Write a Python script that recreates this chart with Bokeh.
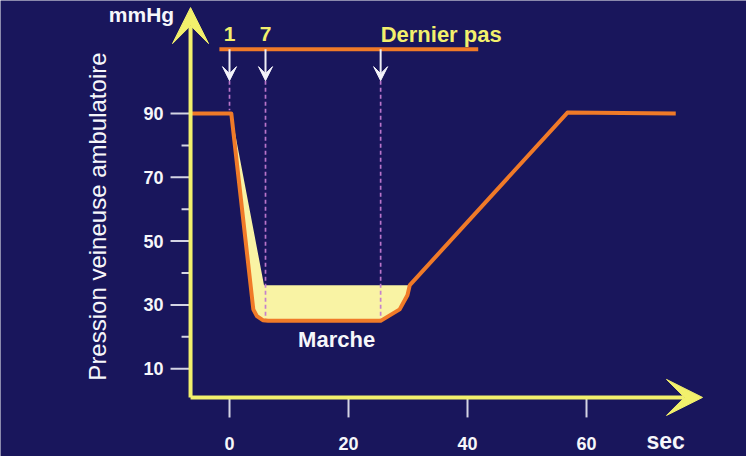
from bokeh.plotting import figure
from bokeh.models import Range1d, Arrow, VeeHead
from bokeh.core.properties import value
from bokeh.embed import file_html
from bokeh.resources import INLINE
import numpy as np

# ---- data ----
time_s = [-6.55, 0.3, 4.0, 4.6, 5.6, 6.5, 25.4, 28.6, 29.9, 30.3, 56.8, 75.0]
pressure = [90, 90, 28.6, 26.5, 25.2, 25, 25, 28.6, 33, 36.2, 90.3, 90]

fill_top_x = [0.3, 5.8, 30.3]
fill_top_y = [90, 36.2, 36.2]

step_x = [0, 6.05, 25.4]          # steps 1, 7 and last step (s)
step_labels = ["1", "7"]
dash_bottom = [91, 25, 25]       # where dashed guides meet the curve
bar_x = [-1.7, 41.8]             # "walking" bar extent
bar_y = 110.1
arrow_tip_y = 100.3

x_ticks = [0, 20, 40, 60]
x_tick_labels = ["0", "20", "40", "60"]
y_ticks = [10, 30, 50, 70, 90]
y_tick_labels = ["10", "30", "50", "70", "90"]
y_minor = [20, 40, 60, 80]

x_axis_at = 1.0      # y value of the time axis
y_axis_at = -6.55    # x value of the pressure axis
x_axis_end = 79.5
y_axis_end = 123.2

NAVY = "#19165c"
ORANGE = "#f07a28"
YELLOW = "#f2f06c"
FILL = "#f9f3a4"
TICK = "#d4d4e4"
WHITE = "#f6f6fa"
FONT = value("Liberation Sans")

# pixel scale of the canvas (746 x 456)
PX_X = 5.95   # px per second
PX_Y = 3.19   # px per mmHg

p = figure(width=746, height=456, output_backend="svg", toolbar_location=None,
           x_range=Range1d(-38.49, 86.89), y_range=Range1d(-17.52, 125.42),
           x_axis_type=None, y_axis_type=None, min_border=0)
p.background_fill_color = NAVY
p.border_fill_color = NAVY
p.outline_line_color = None
p.grid.visible = False

# ---- tick marks and tick labels (drawn through the data scales) ----
n_y = len(y_ticks)
p.segment(x0=[y_axis_at - 20 / PX_X] * n_y, y0=y_ticks, x1=[y_axis_at] * n_y, y1=y_ticks,
          line_color=TICK, line_width=2)
n_m = len(y_minor)
p.segment(x0=[y_axis_at - 9 / PX_X] * n_m, y0=y_minor, x1=[y_axis_at] * n_m, y1=y_minor,
          line_color=TICK, line_width=2)
n_x = len(x_ticks)
p.segment(x0=x_ticks, y0=[x_axis_at] * n_x, x1=x_ticks, y1=[x_axis_at - 20 / PX_Y] * n_x,
          line_color=TICK, line_width=2)
p.text(x=[y_axis_at - 27 / PX_X] * n_y, y=y_ticks, text=y_tick_labels,
       text_font=FONT, text_font_style="bold", text_font_size="18px",
       text_color=WHITE, text_align="right", text_baseline="middle")
p.text(x=x_ticks, y=[x_axis_at - 46 / PX_Y] * n_x, text=x_tick_labels,
       text_font=FONT, text_font_style="bold", text_font_size="18px",
       text_color=WHITE, text_align="center", text_baseline="middle")

# ---- yellow fill between curve and plateau ----
xs = np.array(time_s)
ys = np.array(pressure)
seg = (xs > fill_top_x[0]) & (xs < fill_top_x[-1])
poly_x = list(fill_top_x) + list(xs[seg][::-1])
poly_y = list(fill_top_y) + list(ys[seg][::-1])
p.patch(poly_x, poly_y, fill_color=FILL, line_color=None)

# dashed guides
p.segment(x0=step_x, y0=[arrow_tip_y] * 3, x1=step_x, y1=dash_bottom,
          line_color="#c27ad0", line_alpha=0.95, line_width=1.7, line_dash="4 3")

# pressure curve
p.line(time_s, pressure, line_color=ORANGE, line_width=4, line_join="round")

# walking bar
p.line(bar_x, [bar_y, bar_y], line_color=ORANGE, line_width=4)

# step arrows
for sx in step_x:
    p.add_layout(Arrow(x_start=sx, y_start=bar_y, x_end=sx, y_end=arrow_tip_y,
                       line_color="#eeeef6", line_width=2,
                       end=VeeHead(size=14, fill_color="#f4f4fa", line_color="#f4f4fa")))

# axis lines with arrow heads
p.add_layout(Arrow(x_start=y_axis_at, y_start=x_axis_at, x_end=y_axis_at, y_end=y_axis_end,
                   line_color=YELLOW, line_width=4,
                   end=VeeHead(size=36, fill_color=YELLOW, line_color=YELLOW)))
p.add_layout(Arrow(x_start=y_axis_at, y_start=x_axis_at, x_end=x_axis_end, y_end=x_axis_at,
                   line_color=YELLOW, line_width=4,
                   end=VeeHead(size=36, fill_color=YELLOW, line_color=YELLOW)))

# ---- texts ----
def txt(x, y, s, size, color, style="bold", align="center", angle=0.0):
    p.text(x=[x], y=[y], text=[s], text_font=FONT, text_font_size=size,
           text_font_style=style, text_color=color, text_align=align,
           text_baseline="middle", angle=angle)

for sx, t in zip(step_x, step_labels):
    txt(sx, 114.8, t, "21px", YELLOW)
txt(step_x[2], 114.8, "Dernier pas", "22px", YELLOW, align="left")
txt(18.0, 19.2, "Marche", "22px", WHITE)
txt(-14.8, 121.0, "mmHg", "21px", WHITE)
txt(73.3, -12.8, "sec", "23px", WHITE)
txt(-22.2, 57.7, "Pression veineuse ambulatoire", "24px", WHITE,
    style="normal", angle=np.pi / 2)

open("out.html", "w").write(file_html(p, INLINE))
